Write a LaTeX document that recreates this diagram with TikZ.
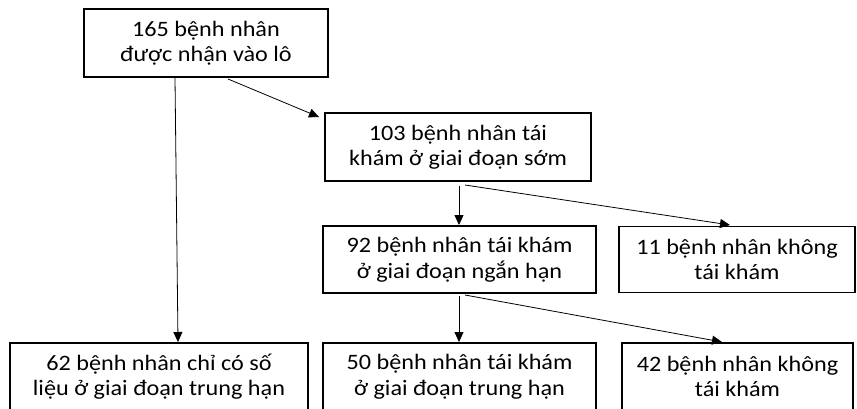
\documentclass[tikz,border=0pt]{standalone}
\usepackage{fontspec}
\setmainfont{Carlito}[FakeStretch=1.1]
\usetikzlibrary{arrows.meta}
\begin{document}
\begin{tikzpicture}[x=1pt,y=-1pt,
  box/.style={draw=black, line width=1.3pt, inner sep=0pt, align=center,
    font=\fontsize{22}{25.5}\selectfont, text=black},
  arr/.style={draw=black, line width=0.8pt, -{Triangle[length=10pt,width=9pt]}}]
\useasboundingbox (0,0) rectangle (857,408);
\clip (0,0) rectangle (857,408);
\node[box, minimum width=244pt, minimum height=68pt] (b1) at (206,43) {165 bệnh nhân\\được nhận vào lô};
\node[box, minimum width=266pt, minimum height=68pt] (b2) at (458,147) {103 bệnh nhân tái\\khám ở giai đoạn sớm};
\node[box, minimum width=273pt, minimum height=67pt] (b3) at (459.5,259.5) {92 bệnh nhân tái khám\\ở giai đoạn ngắn hạn};
\node[box, minimum width=236pt, minimum height=66pt] (b4) at (737,259.5) {11 bệnh nhân không\\tái khám};
\node[box, minimum width=298pt, minimum height=67pt] (b5) at (159,376.5) {62 bệnh nhân chỉ có số\\liệu ở giai đoạn trung hạn};
\node[box, minimum width=273pt, minimum height=67pt] (b6) at (459.5,376.5) {50 bệnh nhân tái khám\\ở giai đoạn trung hạn};
\node[box, minimum width=231pt, minimum height=67pt] (b7) at (737.5,376.5) {42 bệnh nhân không\\tái khám};
% connector end points
\coordinate (s12) at (228,79);
\coordinate (e12) at (319,117);
\coordinate (s15) at (175,78);
\coordinate (e15) at (178,342);
\coordinate (s23) at (459,186);
\coordinate (e23) at (459,225);
\coordinate (s24) at (465,185);
\coordinate (e24) at (730,225);
\coordinate (s36) at (459,296);
\coordinate (e36) at (459,342);
\coordinate (s37) at (465,295);
\coordinate (e37) at (722,342);
\draw[arr] (s12) -- (e12);
\draw[arr] (s15) -- (e15);
\draw[arr] (s23) -- (e23);
\draw[arr] (s24) -- (e24);
\draw[arr] (s36) -- (e36);
\draw[arr] (s37) -- (e37);
\end{tikzpicture}
\end{document}
